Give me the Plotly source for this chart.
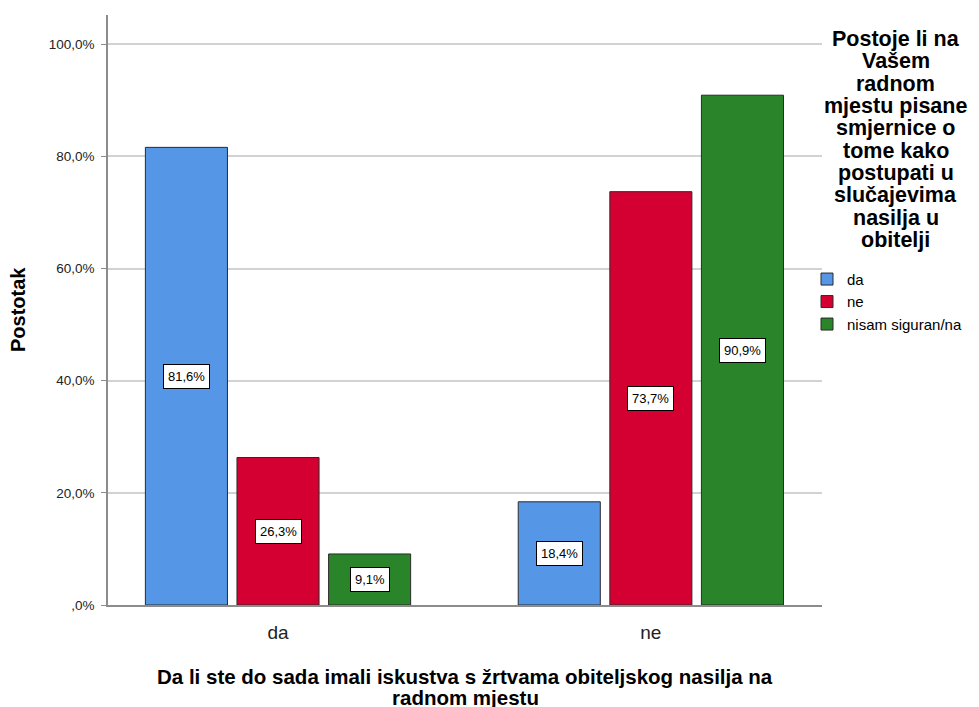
import plotly.graph_objects as go

categories = ["da", "ne"]
series_names = ["da", "ne", "nisam siguran/na"]
values_da = [81.6, 18.4]
values_ne = [26.3, 73.7]
values_nisam = [9.1, 90.9]
label_da = ["81,6%", "18,4%"]
label_ne = ["26,3%", "73,7%"]
label_nisam = ["9,1%", "90,9%"]
tick_vals = [0, 20, 40, 60, 80, 100]
tick_text = [",0%", "20,0%", "40,0%", "60,0%", "80,0%", "100,0%"]
x_title_lines = ["Da li ste do sada imali iskustva s žrtvama obiteljskog nasilja na", "radnom mjestu"]
legend_title_lines = ["Postoje li na", "Vašem", "radnom", "mjestu pisane", "smjernice o",
                      "tome kako", "postupati u", "slučajevima", "nasilja u", "obitelji"]
y_title = "Postotak"

colors = ["#5596E6", "#D50032", "#2A8429"]
series_values = [values_da, values_ne, values_nisam]
series_labels = [label_da, label_ne, label_nisam]

FONT = "Liberation Sans, Arial, sans-serif"
bargap = 0.263
bargroupgap = 0.104
PLOT_H = 590.0

fig = go.Figure()
for name, vals, col in zip(series_names, series_values, colors):
    fig.add_trace(go.Bar(
        x=categories, y=vals, name=name,
        marker=dict(color=col, line=dict(color="#2b2b2b", width=1)),
        hoverinfo="skip",
    ))

slot = (1 - bargap) / len(series_names)
annotations = []
for i, (vals, labs) in enumerate(zip(series_values, series_labels)):
    off = (i - (len(series_names) - 1) / 2) * slot
    for ci, (v, t) in enumerate(zip(vals, labs)):
        annotations.append(dict(
            x=ci + off, y=v / 2, xref="x", yref="y", text=t, showarrow=False,
            font=dict(family=FONT, size=13, color="#000"),
            bgcolor="white", bordercolor="#000", borderwidth=1, borderpad=4,
        ))

# x-axis title (two lines, tight spacing)
for k, line in enumerate(x_title_lines):
    annotations.append(dict(
        x=0.5, y=(-71 - 21 * k) / PLOT_H, xref="paper", yref="paper",
        xanchor="center", yanchor="middle",
        text="<b>" + line + "</b>", showarrow=False,
        font=dict(family=FONT, size=20.5, color="#000"),
    ))

# legend title lines
for k, line in enumerate(legend_title_lines):
    annotations.append(dict(
        x=1.1036, y=(590 - 24 - 22.33 * k) / PLOT_H, xref="paper", yref="paper",
        xanchor="center", yanchor="middle",
        text="<b>" + line + "</b>", showarrow=False,
        font=dict(family=FONT, size=21.5, color="#000"),
    ))

# y-axis title
annotations.append(dict(
    x=-0.126, y=0.5, xref="paper", yref="paper", xanchor="center", yanchor="middle",
    text="<b>" + y_title + "</b>", textangle=-90, showarrow=False,
    font=dict(family=FONT, size=20, color="#000"),
))

fig.update_layout(
    width=971, height=699,
    margin=dict(l=100, r=157, t=7, b=102, autoexpand=False),
    paper_bgcolor="white", plot_bgcolor="white",
    barmode="group", bargap=bargap, bargroupgap=bargroupgap,
    font=dict(family=FONT, color="#000"),
    showlegend=True,
    legend=dict(
        x=0.979, y=0.58, xanchor="left", yanchor="top",
        font=dict(family=FONT, size=15, color="#000"),
        bgcolor="rgba(0,0,0,0)", tracegroupgap=0, itemwidth=30,
    ),
    annotations=annotations,
    xaxis=dict(
        type="category", range=[-0.456, 1.459],
        showline=True, linecolor="#8c8c8c", linewidth=1.5,
        ticks="", showgrid=False,
        tickfont=dict(family=FONT, size=19, color="#222"),
        ticklabelstandoff=9,
    ),
    yaxis=dict(
        range=[0, 105.2], tickvals=tick_vals, ticktext=tick_text,
        showline=True, linecolor="#8c8c8c", linewidth=1.5,
        ticks="outside", ticklen=5, tickcolor="#8c8c8c",
        showgrid=True, gridcolor="#d2d2d2", gridwidth=1.5,
        zeroline=False,
        tickfont=dict(family=FONT, size=13.5, color="#222"),
        ticklabelstandoff=4,
    ),
)

fig.write_html("out.html")
